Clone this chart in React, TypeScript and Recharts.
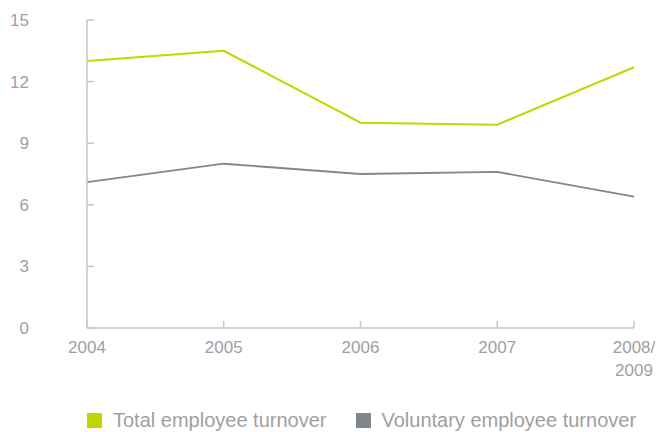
import { LineChart, Line, XAxis, YAxis } from "recharts";

const years = ["2004", "2005", "2006", "2007", "2008/\n2009"];
const totalTurnover = [13.0, 13.5, 10.0, 9.9, 12.7];
const voluntaryTurnover = [7.1, 8.0, 7.5, 7.6, 6.4];
const yTicks = [0, 3, 6, 9, 12, 15];

const AXIS = "#c3c7ca";
const TEXT = "#a0a0a0";
const GREEN = "#c5d500";
const GREY = "#80878c";
const FONT = "Liberation Sans, Arial, sans-serif";

const data = years.map((y, i) => ({
  year: y,
  total: totalTurnover[i],
  voluntary: voluntaryTurnover[i],
}));

// bottom ticks point up into the plot, labels may wrap on "\n"
function XTick({ x, y, payload }: any) {
  const lines = String(payload.value).split("\n");
  return (
    <g>
      <line x1={x} x2={x} y1={y} y2={y - 7} stroke={AXIS} strokeWidth={1.5} />
      {lines.map((l, i) => (
        <text key={i} x={x} y={y + 25 + i * 23} textAnchor="middle"
          fill={TEXT} fontSize={17} fontFamily={FONT}>{l}</text>
      ))}
    </g>
  );
}

// left ticks point right into the plot
function YTick({ x, y, payload }: any) {
  return (
    <g>
      <line x1={x} x2={x + 7} y1={y} y2={y} stroke={AXIS} strokeWidth={1.5} />
      <text x={29} y={y + 6} textAnchor="end" fill={TEXT} fontSize={17} fontFamily={FONT}>
        {payload.value}
      </text>
    </g>
  );
}

export default function App() {
  return (
    <div style={{ position: "absolute", left: 0, top: 0, width: 657, height: 432, background: "#fff" }}>
      <LineChart width={657} height={432} data={data}
        margin={{ top: 20, right: 23, left: 0, bottom: 0 }}>
        <XAxis dataKey="year" scale="point" height={104} tickSize={0} tickMargin={0}
          tickLine={false} axisLine={{ stroke: AXIS, strokeWidth: 1.5 }}
          tick={<XTick />} interval={0} />
        <YAxis domain={[0, 15]} ticks={yTicks} width={87} tickSize={0} tickMargin={0}
          tickLine={false} axisLine={{ stroke: AXIS, strokeWidth: 1.5 }}
          tick={<YTick />} interval={0} />
        <Line dataKey="total" stroke={GREEN} strokeWidth={2} dot={false} isAnimationActive={false} />
        <Line dataKey="voluntary" stroke={GREY} strokeWidth={1.8} dot={false} isAnimationActive={false} />
      </LineChart>
      <div style={{ position: "absolute", left: 87, top: 409, display: "flex", alignItems: "center",
        fontFamily: FONT, fontSize: 20, color: TEXT, whiteSpace: "nowrap" }}>
        <span style={{ width: 15, height: 15, background: "#bfd400", display: "inline-block" }} />
        <span style={{ marginLeft: 11 }}>Total employee turnover</span>
        <span style={{ width: 15, height: 15, background: GREY, display: "inline-block", marginLeft: 30 }} />
        <span style={{ marginLeft: 10 }}>Voluntary employee turnover</span>
      </div>
    </div>
  );
}
